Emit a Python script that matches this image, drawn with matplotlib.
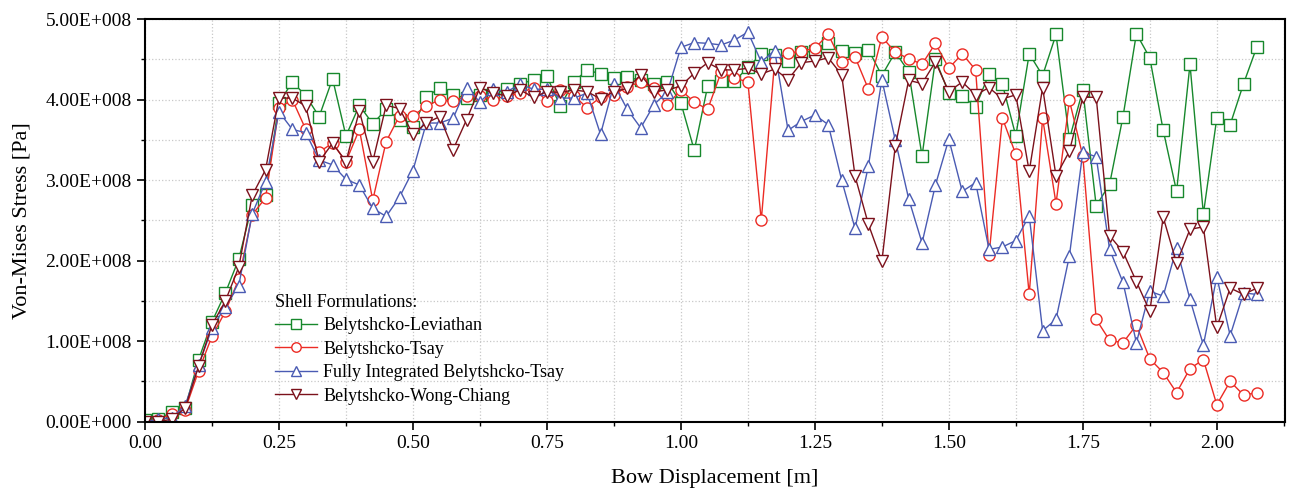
import numpy as np
import matplotlib
matplotlib.use("Agg")
import matplotlib.pyplot as plt
from matplotlib.ticker import MultipleLocator, FuncFormatter

plt.rcParams['font.family'] = ['Liberation Serif', 'DejaVu Serif']

# bow displacement steps of 0.025 m
disp = np.arange(84) * 0.025

# von-mises stress, in units of 1e8 Pa
leviathan = [0.02, 0.03, 0.12, 0.17, 0.77, 1.24, 1.60, 2.02, 2.69, 2.82,
             3.96, 4.22, 4.05, 3.79, 4.26, 3.55, 3.93, 3.70, 3.88, 3.75,
             3.66, 4.03, 4.15, 4.06, 4.02, 4.06, 4.07, 4.13, 4.19, 4.25,
             4.29, 3.92, 4.22, 4.37, 4.32, 4.27, 4.28, 4.24, 4.20, 4.22,
             3.96, 3.37, 4.17, 4.23, 4.23, 4.40, 4.57, 4.56, 4.48, 4.59,
             4.60, 4.70, 4.61, 4.58, 4.62, 4.30, 4.59, 4.35, 3.30, 4.50,
             4.08, 4.05, 3.91, 4.32, 4.19, 3.55, 4.57, 4.30, 4.81, 3.51,
             4.12, 2.68, 2.95, 3.79, 4.82, 4.52, 3.62, 2.86, 4.44, 2.58,
             3.77, 3.69, 4.20, 4.66]

tsay = [0.00, 0.02, 0.10, 0.15, 0.63, 1.06, 1.37, 1.77, 2.57, 2.78,
        3.90, 4.00, 3.63, 3.35, 3.46, 3.23, 3.63, 2.75, 3.48, 3.80,
        3.80, 3.92, 4.00, 3.98, 4.05, 4.05, 4.00, 4.05, 4.08, 4.15,
        3.98, 4.12, 4.05, 3.90, 4.03, 4.06, 4.16, 4.22, 4.14, 3.94,
        4.12, 3.97, 3.88, 4.34, 4.27, 4.22, 2.50, 4.48, 4.58, 4.60,
        4.64, 4.81, 4.47, 4.53, 4.13, 4.78, 4.59, 4.51, 4.44, 4.70,
        4.39, 4.57, 4.37, 2.07, 3.77, 3.32, 1.58, 3.77, 2.71, 3.99,
        3.30, 1.27, 1.01, 0.98, 1.20, 0.78, 0.61, 0.36, 0.66, 0.77,
        0.21, 0.50, 0.33, 0.36]

full_tsay = [0.00, 0.03, 0.05, 0.20, 0.70, 1.16, 1.43, 1.69, 2.58, 2.98,
             3.85, 3.63, 3.59, 3.25, 3.19, 3.01, 2.94, 2.65, 2.55, 2.79,
             3.12, 3.71, 3.71, 3.77, 4.15, 3.97, 4.13, 4.10, 4.19, 4.13,
             4.13, 4.02, 4.02, 4.08, 3.57, 4.19, 3.88, 3.65, 3.94, 4.10,
             4.65, 4.71, 4.70, 4.68, 4.74, 4.84, 4.47, 4.61, 3.62, 3.73,
             3.81, 3.69, 3.00, 2.40, 3.18, 4.25, 3.50, 2.77, 2.22, 2.94,
             3.51, 2.86, 2.97, 2.14, 2.17, 2.25, 2.56, 1.13, 1.27, 2.06,
             3.35, 3.29, 2.14, 1.73, 0.98, 1.62, 1.56, 2.16, 1.52, 0.95,
             1.80, 1.07, 1.60, 1.58]

wong_chiang = [0.00, 0.00, 0.03, 0.17, 0.69, 1.20, 1.50, 1.92, 2.81, 3.13,
               4.02, 4.02, 3.92, 3.23, 3.46, 3.23, 3.86, 3.23, 3.93, 3.89,
               3.57, 3.71, 3.79, 3.38, 3.75, 4.15, 4.08, 4.05, 4.12, 4.03,
               4.10, 4.09, 4.12, 4.10, 4.01, 4.10, 4.14, 4.31, 4.10, 4.12,
               4.17, 4.33, 4.46, 4.37, 4.37, 4.39, 4.32, 4.38, 4.25, 4.46,
               4.48, 4.52, 4.31, 3.05, 2.45, 1.99, 3.42, 4.24, 4.20, 4.47,
               4.10, 4.22, 4.06, 4.15, 4.01, 4.06, 3.11, 4.15, 3.05, 3.36,
               4.03, 4.03, 2.31, 2.11, 1.74, 1.37, 2.54, 1.97, 2.39, 2.42,
               1.17, 1.66, 1.58, 1.66]

labels = ["Belytshcko-Leviathan", "Belytshcko-Tsay",
          "Fully Integrated Belytshcko-Tsay", "Belytshcko-Wong-Chiang"]
colors = ["#17882c", "#ec2b24", "#4a5bb3", "#7b111b"]
markers = ["s", "o", "^", "v"]

fig = plt.figure(figsize=(12.9, 4.92), dpi=100)
ax = fig.add_axes([0.1124, 0.143, 0.8836, 0.818])

for vals, lab, c, m in zip([leviathan, tsay, full_tsay, wong_chiang], labels, colors, markers):
    ax.plot(disp, np.array(vals) * 1e8, color=c, lw=1.0, marker=m,
            markersize=8, markerfacecolor="white", markeredgecolor=c,
            markeredgewidth=1.0, label=lab)

ax.set_xlim(0, 2.127)
ax.set_ylim(0, 5e8)
ax.xaxis.set_major_locator(MultipleLocator(0.25))
ax.xaxis.set_minor_locator(MultipleLocator(0.125))
ax.yaxis.set_major_locator(MultipleLocator(1e8))
ax.yaxis.set_minor_locator(MultipleLocator(0.5e8))
ax.xaxis.set_major_formatter(FuncFormatter(lambda v, p: f"{v:.2f}"))
ax.yaxis.set_major_formatter(FuncFormatter(lambda v, p: f"{v / 1e8:.2f}E+00{8 if v > 0 else 0}"))

ax.grid(which="both", color="#c8c8c8", linestyle=":", linewidth=0.9)
ax.set_axisbelow(True)
ax.tick_params(which="major", direction="out", length=6, width=1.2, labelsize=14)
ax.tick_params(which="minor", direction="out", length=3, width=1.0)
for s in ax.spines.values():
    s.set_linewidth(1.5)

ax.set_xlabel("Bow Displacement [m]", fontsize=16, labelpad=12)
ax.set_ylabel("Von-Mises Stress [Pa]", fontsize=16, labelpad=10)

leg = ax.legend(title="Shell Formulations:", loc="upper left",
                bbox_to_anchor=(0.108, 0.336), frameon=False, fontsize=13,
                title_fontsize=13, alignment="left", handlelength=2.3,
                handletextpad=0.35, labelspacing=0.36, borderaxespad=0,
                markerscale=0.85)

fig.savefig("out.png", dpi=100)
